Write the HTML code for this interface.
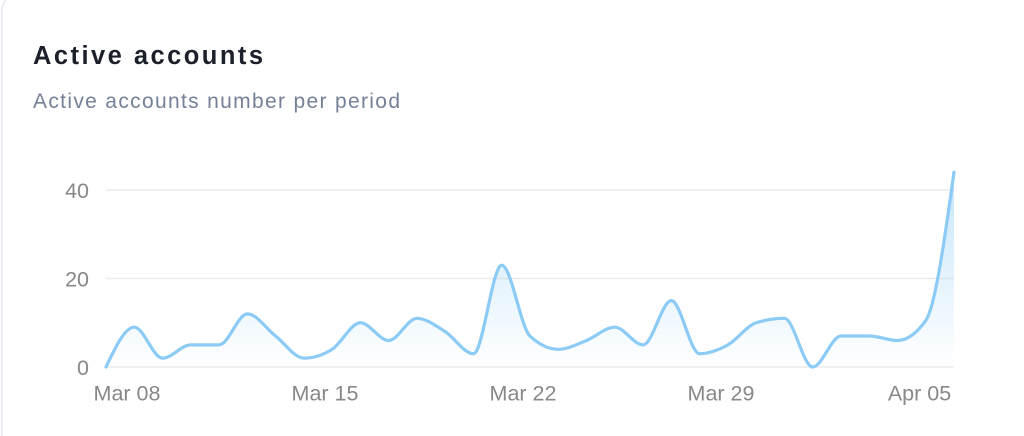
<!DOCTYPE html>
<html>
<head>
<meta charset="utf-8">
<style>
  html, body { margin: 0; padding: 0; background: #ffffff; width: 1024px; height: 436px; overflow: hidden; }
  .wrap { position: relative; width: 1024px; height: 436px; overflow: hidden; }
  svg { position: absolute; left: 0; top: 0; display: block; }
  text { font-family: "Liberation Sans", Arial, sans-serif; }
</style>
</head>
<body>
<div class="wrap">
<svg width="1024" height="436" viewBox="0 0 1024 436" xmlns="http://www.w3.org/2000/svg">
  <defs>
    <linearGradient id="fillGrad" x1="0" y1="0" x2="0" y2="1">
      <stop offset="0%" stop-color="#8ccbf5" stop-opacity="0.5"/>
      <stop offset="100%" stop-color="#8ccbf5" stop-opacity="0"/>
    </linearGradient>
  </defs>

  <!-- card border (left edge + rounded top-left corner) -->
  <path d="M1.75,436 L1.75,12 A20,20 0 0 1 21.75,-8" fill="none" stroke="#e4e9f1" stroke-width="1.5"/>

  <text x="33" y="64" font-size="25.5" font-weight="bold" fill="#1b202b" textLength="230" lengthAdjust="spacing">Active accounts</text>
  <text x="33" y="108" font-size="21" fill="#748197" textLength="367" lengthAdjust="spacing">Active accounts number per period</text>

  <line x1="106" y1="190" x2="954" y2="190" stroke="#ebebeb" stroke-width="1.5"/>
  <line x1="106" y1="278.5" x2="954" y2="278.5" stroke="#ebebeb" stroke-width="1.5"/>
  <line x1="106" y1="367" x2="954" y2="367" stroke="#ebebeb" stroke-width="1.5"/>

  <text x="89" y="198" font-size="21.5" fill="#888888" text-anchor="end">40</text>
  <text x="89" y="286.5" font-size="21.5" fill="#888888" text-anchor="end">20</text>
  <text x="89" y="375" font-size="21.5" fill="#888888" text-anchor="end">0</text>

  <text x="127" y="400.5" font-size="21.5" fill="#888888" text-anchor="middle">Mar 08</text>
  <text x="325" y="400.5" font-size="21.5" fill="#888888" text-anchor="middle">Mar 15</text>
  <text x="523" y="400.5" font-size="21.5" fill="#888888" text-anchor="middle">Mar 22</text>
  <text x="721" y="400.5" font-size="21.5" fill="#888888" text-anchor="middle">Mar 29</text>
  <text x="919.5" y="400.5" font-size="21.5" fill="#888888" text-anchor="middle">Apr 05</text>

  <path id="area" d="" fill="url(#fillGrad)" stroke="none"/>
  <path id="line" d="" fill="none" stroke="#8ccbf5" stroke-width="3.2" stroke-linejoin="round" stroke-linecap="round"/>
</svg>
</div>
<script>
(function(){
  var vals=[0,9,2,5,5,12,7,2,4,10,6,11,8,3,23,7,4,6,9,5,15,3,5,10,11,0,7,7,6,10.5,44];
  var n=vals.length, x0=106, x1=954, h=(x1-x0)/(n-1);
  var X=[],Y=[];
  for(var i=0;i<n;i++){X.push(x0+i*h);Y.push(367-vals[i]*4.425);}
  var s=[];
  for(var i=0;i<n-1;i++) s.push((Y[i+1]-Y[i])/h);
  function sign(v){return v<0?-1:1;}
  var t=new Array(n);
  for(var i=1;i<n-1;i++){
    var s0=s[i-1], s1=s[i], p=(s0+s1)/2;
    var r=(sign(s0)+sign(s1))*Math.min(Math.abs(s0),Math.abs(s1),0.5*Math.abs(p));
    t[i]=r||0;
  }
  t[0]=(3*s[0]-t[1])/2;
  t[n-1]=(3*s[n-2]-t[n-2])/2;
  var d="M"+X[0].toFixed(2)+","+Y[0].toFixed(2);
  for(var i=0;i<n-1;i++){
    d+=" C"+(X[i]+h/3).toFixed(2)+","+(Y[i]+t[i]*h/3).toFixed(2)+" "+
       (X[i+1]-h/3).toFixed(2)+","+(Y[i+1]-t[i+1]*h/3).toFixed(2)+" "+
       X[i+1].toFixed(2)+","+Y[i+1].toFixed(2);
  }
  document.getElementById("line").setAttribute("d",d);
  document.getElementById("area").setAttribute("d",d+" L"+X[n-1].toFixed(2)+",367 L"+X[0].toFixed(2)+",367 Z");
})();
</script>
</body>
</html>
